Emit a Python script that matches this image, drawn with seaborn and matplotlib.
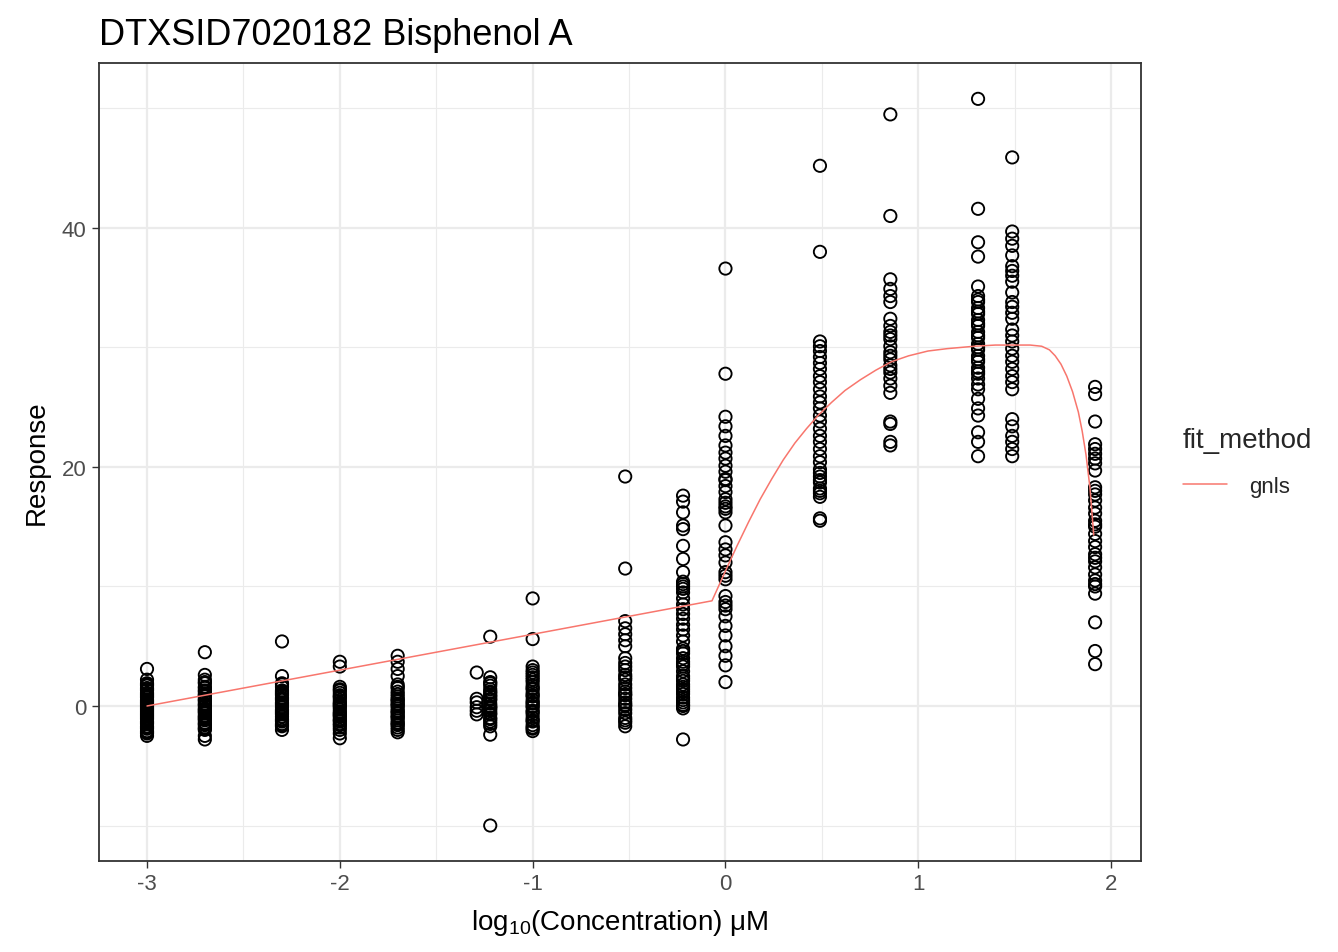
import matplotlib
matplotlib.use("Agg")
import matplotlib.pyplot as plt
from matplotlib.ticker import MultipleLocator
import seaborn as sns
import pandas as pd

# ---------------- data ----------------
concentrations = [-3.0, -2.7, -2.3, -2.0, -1.7, -1.29, -1.22, -1.0, -0.52, -0.22,
                  0.0, 0.49, 0.855, 1.31, 1.487, 1.917]

resp_c1 = [3.1, 2.2, 1.9, 1.7, 1.5, 1.3, 1.1, 0.9, 0.7, 0.5, 0.3, 0.1, 0.0, -0.1, -0.3,
           -0.5, -0.7, -0.9, -1.1, -1.3, -1.5, -1.7, -1.9, -2.1, -2.3, -2.5, 1.0, 0.4, -0.4,
           -0.8, 1.8, 1.4, 0.8, 0.2, -0.2, -0.6, -1.0, -1.4, -1.8, -2.2]
resp_c2 = [4.5, 2.6, 2.2, 1.9, 1.6, 1.3, 1.0, 0.8, 0.6, 0.4, 0.2, 0.0, -0.2, -0.4, -0.6,
           -0.8, -1.0, -1.2, -1.4, -1.6, -1.8, -2.0, -2.5, -2.8, 0.5, -0.3, -0.9, 1.2,
           2.0, 1.5, 0.9, 0.1, -0.5, -1.1, -1.5, -1.9]
resp_c3 = [5.4, 2.5, 1.9, 1.6, 1.3, 1.1, 0.9, 0.7, 0.5, 0.3, 0.1, -0.1, -0.3, -0.5, -0.7,
           -0.9, -1.1, -1.3, -1.5, -1.7, -2.0, 0.6, -0.4, 1.2, 1.8, 1.0, 0.2, -0.6, -1.2, -1.6]
resp_c4 = [3.7, 3.3, 1.6, 1.3, 1.1, 0.9, 0.7, 0.5, 0.3, 0.1, -0.1, -0.3, -0.5, -0.7, -0.9,
           -1.1, -1.3, -1.5, -1.8, -2.0, -2.3, -2.7, 0.2, -0.6, 1.4, 0.8, 0.0, -0.8, -1.2, -1.6]
resp_c5 = [4.2, 3.7, 3.1, 2.5, 1.8, 1.5, 1.2, 1.0, 0.8, 0.6, 0.4, 0.2, 0.0, -0.2, -0.4,
           -0.6, -0.8, -1.0, -1.2, -1.4, -1.6, -1.8, -2.0, -2.2, 0.1, -0.9, 1.6, 0.5, -0.5, -1.5]
resp_c6 = [2.8, 0.6, 0.3, -0.1, -0.4, -0.7]
resp_c7 = [5.8, 2.4, 2.0, 1.7, 1.4, 1.1, 0.8, 0.5, 0.2, -0.1, -0.4, -0.7, -1.0, -1.3,
           -1.7, -2.4, -10.0, 0.9, -0.2, 1.9, 1.2, 0.6, 0.0, -0.6, -1.1, -1.5]
resp_c8 = [9.0, 5.6, 3.3, 2.8, 2.4, 2.0, 1.7, 1.4, 1.1, 0.8, 0.5, 0.2, -0.1, -0.4, -0.7,
           -1.0, -1.3, -1.6, -1.9, -2.1, 2.6, 0.0, 3.0, 2.2, 1.5, 0.9, 0.3, -0.5, -1.2, -1.8]
resp_c9 = [19.2, 11.5, 7.1, 6.5, 6.0, 5.5, 5.0, 4.0, 3.6, 3.3, 3.0, 2.6, 2.2, 1.8, 1.5,
           1.2, 0.9, 0.6, 0.3, 0.0, -0.3, -0.6, -1.0, -1.4, -1.7, 2.4, 1.0, 0.1, -1.2]
resp_c10 = [17.6, 17.1, 16.2, 15.1, 14.8, 13.4, 12.3, 11.2, 10.4, 10.0, 9.5, 9.0, 8.5,
            8.1, 7.7, 7.3, 6.8, 6.4, 5.9, 5.4, 4.8, 4.4, 4.0, 3.7, 3.3, 2.9, 2.5, 2.1,
            1.8, 1.4, 1.0, 0.7, 0.3, 0.0, -0.2, -2.8, 10.2, 9.8, 4.6, 3.5, 2.3, 1.6, 1.2,
            0.5, 0.1]
resp_c11 = [36.6, 27.8, 24.2, 23.4, 22.6, 21.8, 21.2, 20.7, 20.1, 19.6, 19.0, 18.4, 17.9,
            17.3, 16.7, 16.2, 15.1, 13.7, 13.1, 12.6, 12.0, 11.2, 10.6, 9.2, 8.7, 8.1,
            7.5, 6.7, 5.9, 5.0, 4.2, 3.4, 2.0, 18.9, 17.0, 16.5, 10.9, 8.4]
resp_c12 = [45.2, 38.0, 30.5, 30.1, 29.7, 29.2, 28.7, 28.2, 27.6, 27.1, 26.5, 25.9, 25.4,
            24.9, 24.3, 23.8, 23.2, 22.6, 22.1, 21.5, 20.9, 20.4, 19.8, 19.2, 18.7, 18.2,
            17.5, 15.7, 15.5, 19.5, 18.9, 18.0, 17.8]
resp_c13 = [49.5, 41.0, 35.7, 34.9, 34.3, 33.8, 32.4, 31.8, 31.3, 30.7, 30.1, 29.6, 29.0,
            28.5, 27.9, 27.4, 26.8, 26.2, 23.8, 23.6, 22.1, 21.8, 31.0, 29.3, 28.2]
resp_c14 = [50.8, 41.6, 38.8, 37.6, 35.1, 34.3, 33.8, 33.3, 32.8, 32.3, 31.8, 31.3, 30.8,
            30.3, 29.8, 29.3, 28.8, 28.3, 27.8, 27.4, 26.5, 25.7, 24.9, 24.3, 22.9, 22.1,
            20.9, 34.0, 33.0, 32.0, 31.0, 30.0, 29.0, 28.0, 26.9]
resp_c15 = [45.9, 39.7, 39.1, 38.5, 37.7, 36.8, 36.4, 36.0, 35.5, 34.6, 33.8, 33.4, 32.9,
            32.4, 31.5, 31.0, 30.5, 29.9, 29.3, 28.8, 28.2, 27.6, 27.1, 26.5, 24.0, 23.4,
            22.6, 22.1, 21.5, 20.9]
resp_c16 = [26.7, 26.1, 23.8, 21.9, 21.5, 21.1, 20.7, 20.3, 19.7, 18.3, 17.7, 17.2, 16.6,
            16.1, 15.5, 15.0, 14.4, 13.8, 13.3, 12.7, 12.1, 11.6, 11.0, 10.5, 10.0, 9.4,
            7.0, 4.6, 3.5, 18.0, 15.2, 12.4, 10.2]

responses = [resp_c1, resp_c2, resp_c3, resp_c4, resp_c5, resp_c6, resp_c7, resp_c8,
             resp_c9, resp_c10, resp_c11, resp_c12, resp_c13, resp_c14, resp_c15, resp_c16]

# fitted gnls curve
curve_x = [-3.0, -2.0, -1.0, -0.07, 0.0, 0.06, 0.12, 0.18, 0.24, 0.30, 0.36, 0.42,
           0.48, 0.55, 0.62, 0.70, 0.78, 0.86, 0.95, 1.05, 1.15, 1.29, 1.40, 1.50,
           1.58, 1.64, 1.68, 1.71, 1.74, 1.77, 1.80, 1.83, 1.85, 1.87, 1.89, 1.91]
curve_y = [0.0, 3.0, 6.0, 8.8, 11.3, 13.4, 15.4, 17.3, 19.0, 20.6, 22.0, 23.2,
           24.3, 25.4, 26.4, 27.3, 28.1, 28.8, 29.3, 29.7, 29.9, 30.1, 30.2, 30.2,
           30.2, 30.1, 29.8, 29.3, 28.6, 27.6, 26.3, 24.6, 23.0, 21.0, 18.3, 14.3]

title = "DTXSID7020182 Bisphenol A"
x_label = r"log$_{10}$(Concentration) μM"
y_label = "Response"
x_ticks = [-3, -2, -1, 0, 1, 2]
y_ticks = [0, 20, 40]

# ---------------- frames ----------------
pts = pd.DataFrame({
    "logc": [c for c, r in zip(concentrations, responses) for _ in r],
    "resp": [v for r in responses for v in r],
})
curve = pd.DataFrame({"logc": curve_x, "resp": curve_y,
                      "fit_method": ["gnls"] * len(curve_x)})

# ---------------- plot ----------------
sns.set_theme(style="white")
plt.rcParams["font.family"] = ["Liberation Sans", "DejaVu Sans"]
plt.rcParams["mathtext.fontset"] = "custom"
plt.rcParams["mathtext.rm"] = "Liberation Sans"
plt.rcParams["mathtext.it"] = "Liberation Sans:italic"
plt.rcParams["axes.unicode_minus"] = False

fig = plt.figure(figsize=(13.38, 9.53), dpi=100)
ax = fig.add_axes([99 / 1338, 1 - 862 / 953, (1141 - 99) / 1338, (862 - 64) / 953])

sns.scatterplot(data=pts, x="logc", y="resp", ax=ax, marker="o", s=78,
                fc="none", ec="black", linewidth=1.35, legend=False, zorder=3)
sns.lineplot(data=curve, x="logc", y="resp", hue="fit_method",
             palette={"gnls": "#F8766D"}, ax=ax, linewidth=1.1, zorder=4)

ax.set_xlim(-3.249, 2.155)
ax.set_ylim(-12.97, 53.8)
ax.set_xticks(x_ticks)
ax.set_yticks(y_ticks)
ax.xaxis.set_minor_locator(MultipleLocator(0.5))
ax.yaxis.set_minor_locator(MultipleLocator(10))
ax.grid(which="major", color="#EBEBEB", linewidth=1.6)
ax.grid(which="minor", color="#EBEBEB", linewidth=0.8)
ax.set_axisbelow(True)
for sp in ax.spines.values():
    sp.set_color("#333333")
    sp.set_linewidth(1.3)
ax.tick_params(which="major", length=5, width=1.0, color="#333333",
               labelsize=16, labelcolor="#4D4D4D", pad=4,
               bottom=True, left=True)
ax.tick_params(which="minor", length=0)

ax.set_xlabel(x_label, fontsize=20, color="black", labelpad=9)
ax.set_ylabel(y_label, fontsize=20, color="black", labelpad=9)
ax.set_title(title, fontsize=26, loc="left", pad=14, color="black")

leg = ax.legend(title="fit_method", loc="center left",
                bbox_to_anchor=(1.025, 0.5), frameon=False,
                fontsize=16, title_fontsize=20, handlelength=2.0,
                handletextpad=1.0, labelspacing=0.8, borderpad=0.2)
leg._legend_box.align = "left"
leg._legend_box.sep = 16
for h in leg.get_lines():
    h.set_linewidth(1.1)

fig.savefig("out.png", dpi=100)
